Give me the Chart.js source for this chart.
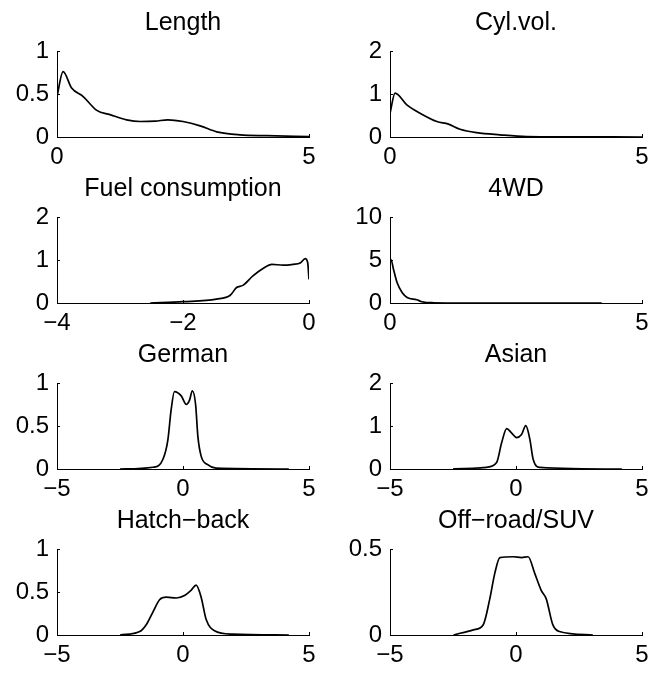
<!DOCTYPE html>
<html>
<head>
<meta charset="utf-8">
<script src="https://cdn.jsdelivr.net/npm/chart.js@4"></script>
<style>
  body { margin: 0; background: #fff; }
  #wrap { position: relative; width: 654px; height: 677px; overflow: hidden; }
  #wrap canvas { position: absolute; }
</style>
</head>
<body>
<div id="wrap"></div>
<script>
// panel titles and axis settings
const titles = ["Length", "Cyl.vol.", "Fuel consumption", "4WD", "German", "Asian", "Hatch\u2212back", "Off\u2212road/SUV"];
const xMins = [0, 0, -4, 0, -5, -5, -5, -5];
const xMaxs = [5, 5, 0, 5, 5, 5, 5, 5];
const xSteps = [5, 5, 2, 5, 5, 5, 5, 5];
const yMaxs = [1, 2, 2, 10, 1, 2, 1, 0.5];
const ySteps = [0.5, 1, 1, 5, 0.5, 1, 0.5, 0.5];

// density curves
const lengthX = [0, 0.12, 0.29, 0.52, 0.79, 1.05, 1.38, 1.65, 1.95, 2.2, 2.5, 2.84, 3.17, 3.63, 4.16, 5];
const lengthY = [0.47, 0.76, 0.57, 0.47, 0.31, 0.26, 0.2, 0.18, 0.185, 0.2, 0.18, 0.13, 0.06, 0.025, 0.015, 0.005];

const cylX = [0, 0.1, 0.34, 0.6, 0.93, 1.16, 1.39, 1.72, 2.18, 2.71, 3.5, 5];
const cylY = [0.55, 1.02, 0.74, 0.55, 0.36, 0.3, 0.18, 0.1, 0.05, 0.01, 0.003, 0];

const fuelX = [-2.52, -2.0, -1.47, -1.25, -1.15, -1.05, -0.89, -0.73, -0.59, -0.41, -0.25, -0.14, -0.06, -0.02, 0];
const fuelY = [0, 0.03, 0.09, 0.18, 0.36, 0.41, 0.63, 0.8, 0.9, 0.88, 0.9, 0.93, 1.03, 0.93, 0.55];

const wdX = [0, 0.02, 0.07, 0.14, 0.24, 0.34, 0.53, 0.63, 0.86, 1.5, 4.2];
const wdY = [4.87, 5.06, 3.9, 2.38, 1.23, 0.65, 0.38, 0.15, 0.03, 0, 0];

const germanX = [-2.5, -1.19, -0.8, -0.6, -0.47, -0.34, -0.07, 0.13, 0.26, 0.37, 0.5, 0.59, 0.72, 0.98, 1.31, 4.2];
const germanY = [0, 0.02, 0.11, 0.34, 0.69, 0.9, 0.85, 0.75, 0.8, 0.91, 0.75, 0.38, 0.15, 0.05, 0.01, 0];

const asianX = [-2.5, -1.17, -0.77, -0.57, -0.37, -0.18, 0.02, 0.22, 0.39, 0.55, 0.68, 0.94, 4.2];
const asianY = [0, 0.04, 0.15, 0.61, 0.94, 0.84, 0.73, 0.8, 1.01, 0.69, 0.23, 0.04, 0];

const hatchX = [-2.5, -1.72, -1.46, -1.19, -0.93, -0.66, -0.27, 0.06, 0.32, 0.52, 0.72, 0.92, 1.25, 1.97, 4.2];
const hatchY = [0, 0.04, 0.12, 0.27, 0.41, 0.44, 0.43, 0.46, 0.52, 0.58, 0.44, 0.18, 0.05, 0.01, 0];

const suvX = [-2.48, -1.69, -1.3, -1.04, -0.84, -0.64, -0.11, 0.22, 0.48, 0.74, 1.0, 1.2, 1.46, 1.72, 3.05];
const suvY = [0, 0.03, 0.06, 0.21, 0.36, 0.45, 0.455, 0.45, 0.455, 0.36, 0.26, 0.21, 0.06, 0.02, 0];

const seriesX = [lengthX, cylX, fuelX, wdX, germanX, asianX, hatchX, suvX];
const seriesY = [lengthY, cylY, fuelY, wdY, germanY, asianY, hatchY, suvY];

// panel geometry
const colLeft = [57, 390];
const rowTop = [51, 217, 383, 549];
const plotW = 252, plotH = 86, margin = 60, titleH = 50, xAxisH = 40;
const font = "'Liberation Sans', Arial, Helvetica, sans-serif";

const minus = v => String(v).replace('-', '\u2212');

// small inward tick marks like the original
const innerTicks = {
  id: 'innerTicks',
  afterDraw(chart) {
    const ctx = chart.ctx;
    const area = chart.chartArea;
    ctx.save();
    ctx.strokeStyle = '#000';
    ctx.lineWidth = 1;
    chart.scales.x.ticks.forEach(t => {
      const px = Math.round(chart.scales.x.getPixelForValue(t.value)) + 0.5;
      ctx.beginPath();
      ctx.moveTo(px, area.bottom);
      ctx.lineTo(px, area.bottom - 3);
      ctx.stroke();
    });
    chart.scales.y.ticks.forEach(t => {
      const py = Math.round(chart.scales.y.getPixelForValue(t.value)) + 0.5;
      ctx.beginPath();
      ctx.moveTo(area.left, py);
      ctx.lineTo(area.left + 3, py);
      ctx.stroke();
    });
    ctx.restore();
  }
};

const wrap = document.getElementById('wrap');

titles.forEach((title, i) => {
  const col = i % 2, row = Math.floor(i / 2);
  const canvas = document.createElement('canvas');
  canvas.width = plotW + 2 * margin;
  canvas.height = titleH + plotH + xAxisH;
  canvas.style.left = (colLeft[col] - margin) + 'px';
  canvas.style.top = (rowTop[row] - titleH) + 'px';
  wrap.appendChild(canvas);

  const points = seriesX[i].map((x, k) => ({ x: x, y: seriesY[i][k] }));

  new Chart(canvas, {
    type: 'line',
    data: {
      datasets: [{
        data: points,
        borderColor: '#000',
        borderWidth: 1.7,
        pointRadius: 0,
        cubicInterpolationMode: 'monotone',
        fill: false
      }]
    },
    options: {
      responsive: false,
      animation: false,
      devicePixelRatio: 1,
      layout: { padding: 0 },
      plugins: {
        legend: { display: false },
        tooltip: { enabled: false },
        title: {
          display: true,
          text: title,
          color: '#000',
          font: { family: font, size: 25, weight: 'normal', lineHeight: 1.2 },
          padding: { top: 7, bottom: 13 }
        }
      },
      scales: {
        x: {
          type: 'linear',
          min: xMins[i],
          max: xMaxs[i],
          afterFit: s => { s.height = xAxisH; },
          grid: { display: false, drawTicks: false },
          border: { display: true, color: '#000', width: 1 },
          ticks: {
            stepSize: xSteps[i],
            color: '#000',
            padding: 6,
            maxRotation: 0,
            autoSkip: false,
            font: { family: font, size: 24 },
            callback: v => minus(v)
          }
        },
        y: {
          min: 0,
          max: yMaxs[i],
          afterFit: s => { s.width = margin; },
          grid: { display: false, drawTicks: false },
          border: { display: true, color: '#000', width: 1 },
          ticks: {
            stepSize: ySteps[i],
            color: '#000',
            padding: 8,
            font: { family: font, size: 24 },
            callback: v => minus(v)
          }
        },
        // empty right axis keeps the plot centred under its title
        yRight: {
          position: 'right',
          min: 0,
          max: yMaxs[i],
          afterFit: s => { s.width = margin; },
          grid: { display: false, drawTicks: false },
          border: { display: false },
          ticks: { display: false }
        }
      }
    },
    plugins: [innerTicks]
  });
});
</script>
</body>
</html>
